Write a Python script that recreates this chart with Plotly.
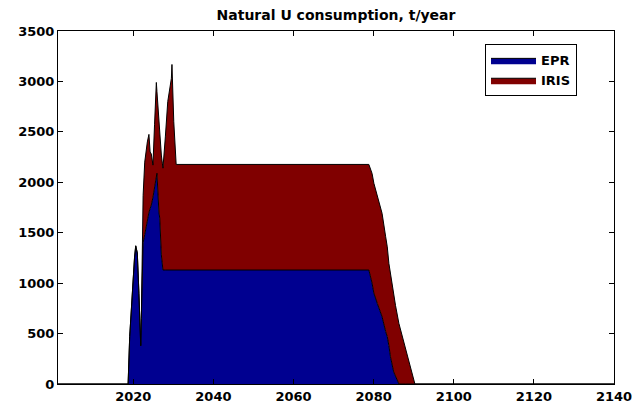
import plotly.graph_objects as go

years = [2001.0, 2018.7, 2019.1, 2019.5, 2019.9, 2020.3, 2020.6, 2021.0, 2021.4, 2021.7,
         2021.85, 2022.0, 2022.3, 2022.45, 2022.85, 2023.1, 2023.5, 2023.9, 2024.2, 2024.5,
         2024.9, 2025.3, 2025.75, 2025.9, 2026.4, 2026.6, 2027.0, 2027.25, 2027.4, 2028.0,
         2028.6, 2029.5, 2029.65, 2030.1, 2030.7, 2078.8, 2079.6, 2080.06, 2080.9, 2082.1,
         2083.0, 2083.4, 2083.8, 2084.2, 2085.0, 2085.45, 2086.3, 2087.9, 2089.2, 2090.3,
         2140.0]

epr = [0, 0, 470, 730, 1100, 1250, 1370, 1300, 900, 640,
       380, 650, 1300, 1400, 1480, 1540, 1610, 1700, 1740, 1775,
       1850, 1940, 2070, 2090, 1700, 1645, 1280, 1140, 1130, 1130,
       1130, 1130, 1130, 1130, 1130, 1130, 1000, 900, 800, 667,
       520, 470, 380, 270, 120, 72, 0, 0, 0, 0,
       0]

total = [0, 0, 470, 730, 1100, 1250, 1370, 1300, 900, 640,
         380, 650, 1300, 1870, 2200, 2300, 2400, 2475, 2300, 2280,
         2170, 2570, 2990, 2900, 2600, 2450, 2270, 2190, 2140, 2450,
         2800, 3030, 3168, 2600, 2177, 2177, 2088, 1990, 1856, 1692,
         1460, 1360, 1196, 1100, 865, 780, 601, 370, 171, 0,
         0]

iris = [t - e for t, e in zip(total, epr)]

x_ticks = [2020, 2040, 2060, 2080, 2100, 2120, 2140]
y_ticks = [0, 500, 1000, 1500, 2000, 2500, 3000, 3500]

font_family = "DejaVu Sans, Arial, sans-serif"

fig = go.Figure()
fig.add_trace(go.Scatter(x=years, y=epr, name="EPR", mode="lines", stackgroup="one",
                         line=dict(color="black", width=1), fillcolor="#000090"))
fig.add_trace(go.Scatter(x=years, y=iris, name="IRIS", mode="lines", stackgroup="one",
                         line=dict(color="black", width=1), fillcolor="#800000"))

axis_common = dict(showline=True, linecolor="black", linewidth=1, mirror="ticks",
                   ticks="inside", ticklen=5, tickcolor="black", showgrid=False,
                   zeroline=False, automargin=False, ticklabeloverflow="allow",
                   tickfont=dict(family=font_family, size=13, color="black", weight="bold"))

fig.update_layout(
    width=632, height=407,
    margin=dict(l=58, r=18, t=31, b=23, autoexpand=False),
    paper_bgcolor="white", plot_bgcolor="white",
    title=dict(text="Natural U consumption, t/year", x=0.5, xref="paper", y=0.963, yref="container",
               xanchor="center", yanchor="middle",
               font=dict(family=font_family, size=14, color="black", weight="bold")),
    xaxis=dict(range=[2001.2, 2140], tickvals=x_ticks, **axis_common),
    yaxis=dict(range=[0, 3500], tickvals=y_ticks, **axis_common),
    legend=dict(x=0.768, y=0.962, xanchor="left", yanchor="top",
                bordercolor="black", borderwidth=1, bgcolor="white",
                font=dict(family=font_family, size=13, color="black", weight="bold"),
                traceorder="normal", itemwidth=45, tracegroupgap=0),
    showlegend=True,
)

fig.write_html("out.html", config={"displayModeBar": False},
               post_script="document.body.style.margin='0';document.body.style.overflow='hidden';")
